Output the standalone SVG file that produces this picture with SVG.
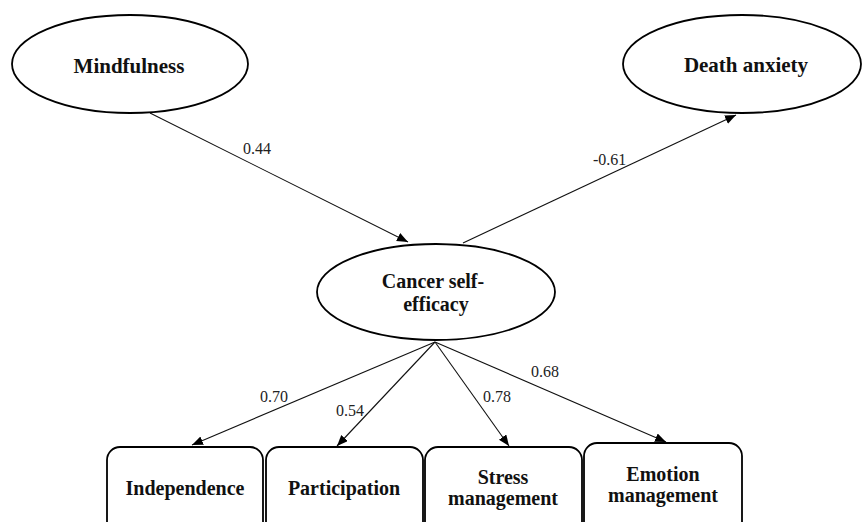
<svg xmlns="http://www.w3.org/2000/svg" width="862" height="522" viewBox="0 0 862 522">
<style>
.node{fill:#fff;stroke:#000;stroke-width:1.8}
.lbl{font-family:"Liberation Serif","Times New Roman",serif;font-weight:bold;font-size:20px;text-anchor:middle;fill:#111}
.coef{font-family:"Liberation Serif","Times New Roman",serif;font-size:16px;fill:#222}
.edge{stroke:#111;stroke-width:1.1;fill:none;marker-end:url(#ah)}
</style>
<defs>
<marker id="ah" markerUnits="userSpaceOnUse" markerWidth="12" markerHeight="10" refX="11" refY="4.5" orient="auto">
<path d="M0,0 L11,4.5 L0,9 z" fill="#000"/>
</marker>
</defs>
<rect width="862" height="522" fill="#fff"/>
<g id="connectors">
<line class="edge" x1="150" y1="113" x2="408" y2="242"/>
<line class="edge" x1="463" y1="243" x2="736" y2="115"/>
<line class="edge" x1="435" y1="342" x2="192" y2="445"/>
<line class="edge" x1="435" y1="342" x2="337" y2="446"/>
<line class="edge" x1="435" y1="342" x2="509" y2="446"/>
<line class="edge" x1="435" y1="342" x2="666" y2="442"/>
<text class="coef" x="243" y="154">0.44</text>
<text class="coef" x="593" y="165">-0.61</text>
<text class="coef" x="260" y="402">0.70</text>
<text class="coef" x="336" y="416">0.54</text>
<text class="coef" x="483" y="402">0.78</text>
<text class="coef" x="531" y="377">0.68</text>
</g>
<g id="mindfulness">
<ellipse class="node" cx="130" cy="64" rx="118" ry="49"/>
<text class="lbl" x="129" y="73" style="font-size:21px">Mindfulness</text>
</g>
<g id="death-anxiety">
<ellipse class="node" cx="742" cy="64" rx="119" ry="49"/>
<text class="lbl" x="746" y="72" style="font-size:21px">Death anxiety</text>
</g>
<g id="cancer-self-efficacy">
<ellipse class="node" cx="436" cy="292" rx="119" ry="48"/>
<text class="lbl" x="433" y="288">Cancer self-</text>
<text class="lbl" x="436" y="311">efficacy</text>
</g>
<g id="independence">
<rect class="node" x="107" y="447" width="156" height="95" rx="13"/>
<text class="lbl" x="185" y="495">Independence</text>
</g>
<g id="participation">
<rect class="node" x="266" y="447" width="157" height="95" rx="13"/>
<text class="lbl" x="344" y="495">Participation</text>
</g>
<g id="stress-management">
<rect class="node" x="425" y="447" width="157" height="95" rx="13"/>
<text class="lbl" x="503" y="484">Stress</text>
<text class="lbl" x="503" y="505">management</text>
</g>
<g id="emotion-management">
<rect class="node" x="584" y="443" width="158" height="99" rx="13"/>
<text class="lbl" x="663" y="481">Emotion</text>
<text class="lbl" x="663" y="502">management</text>
</g>
</svg>
